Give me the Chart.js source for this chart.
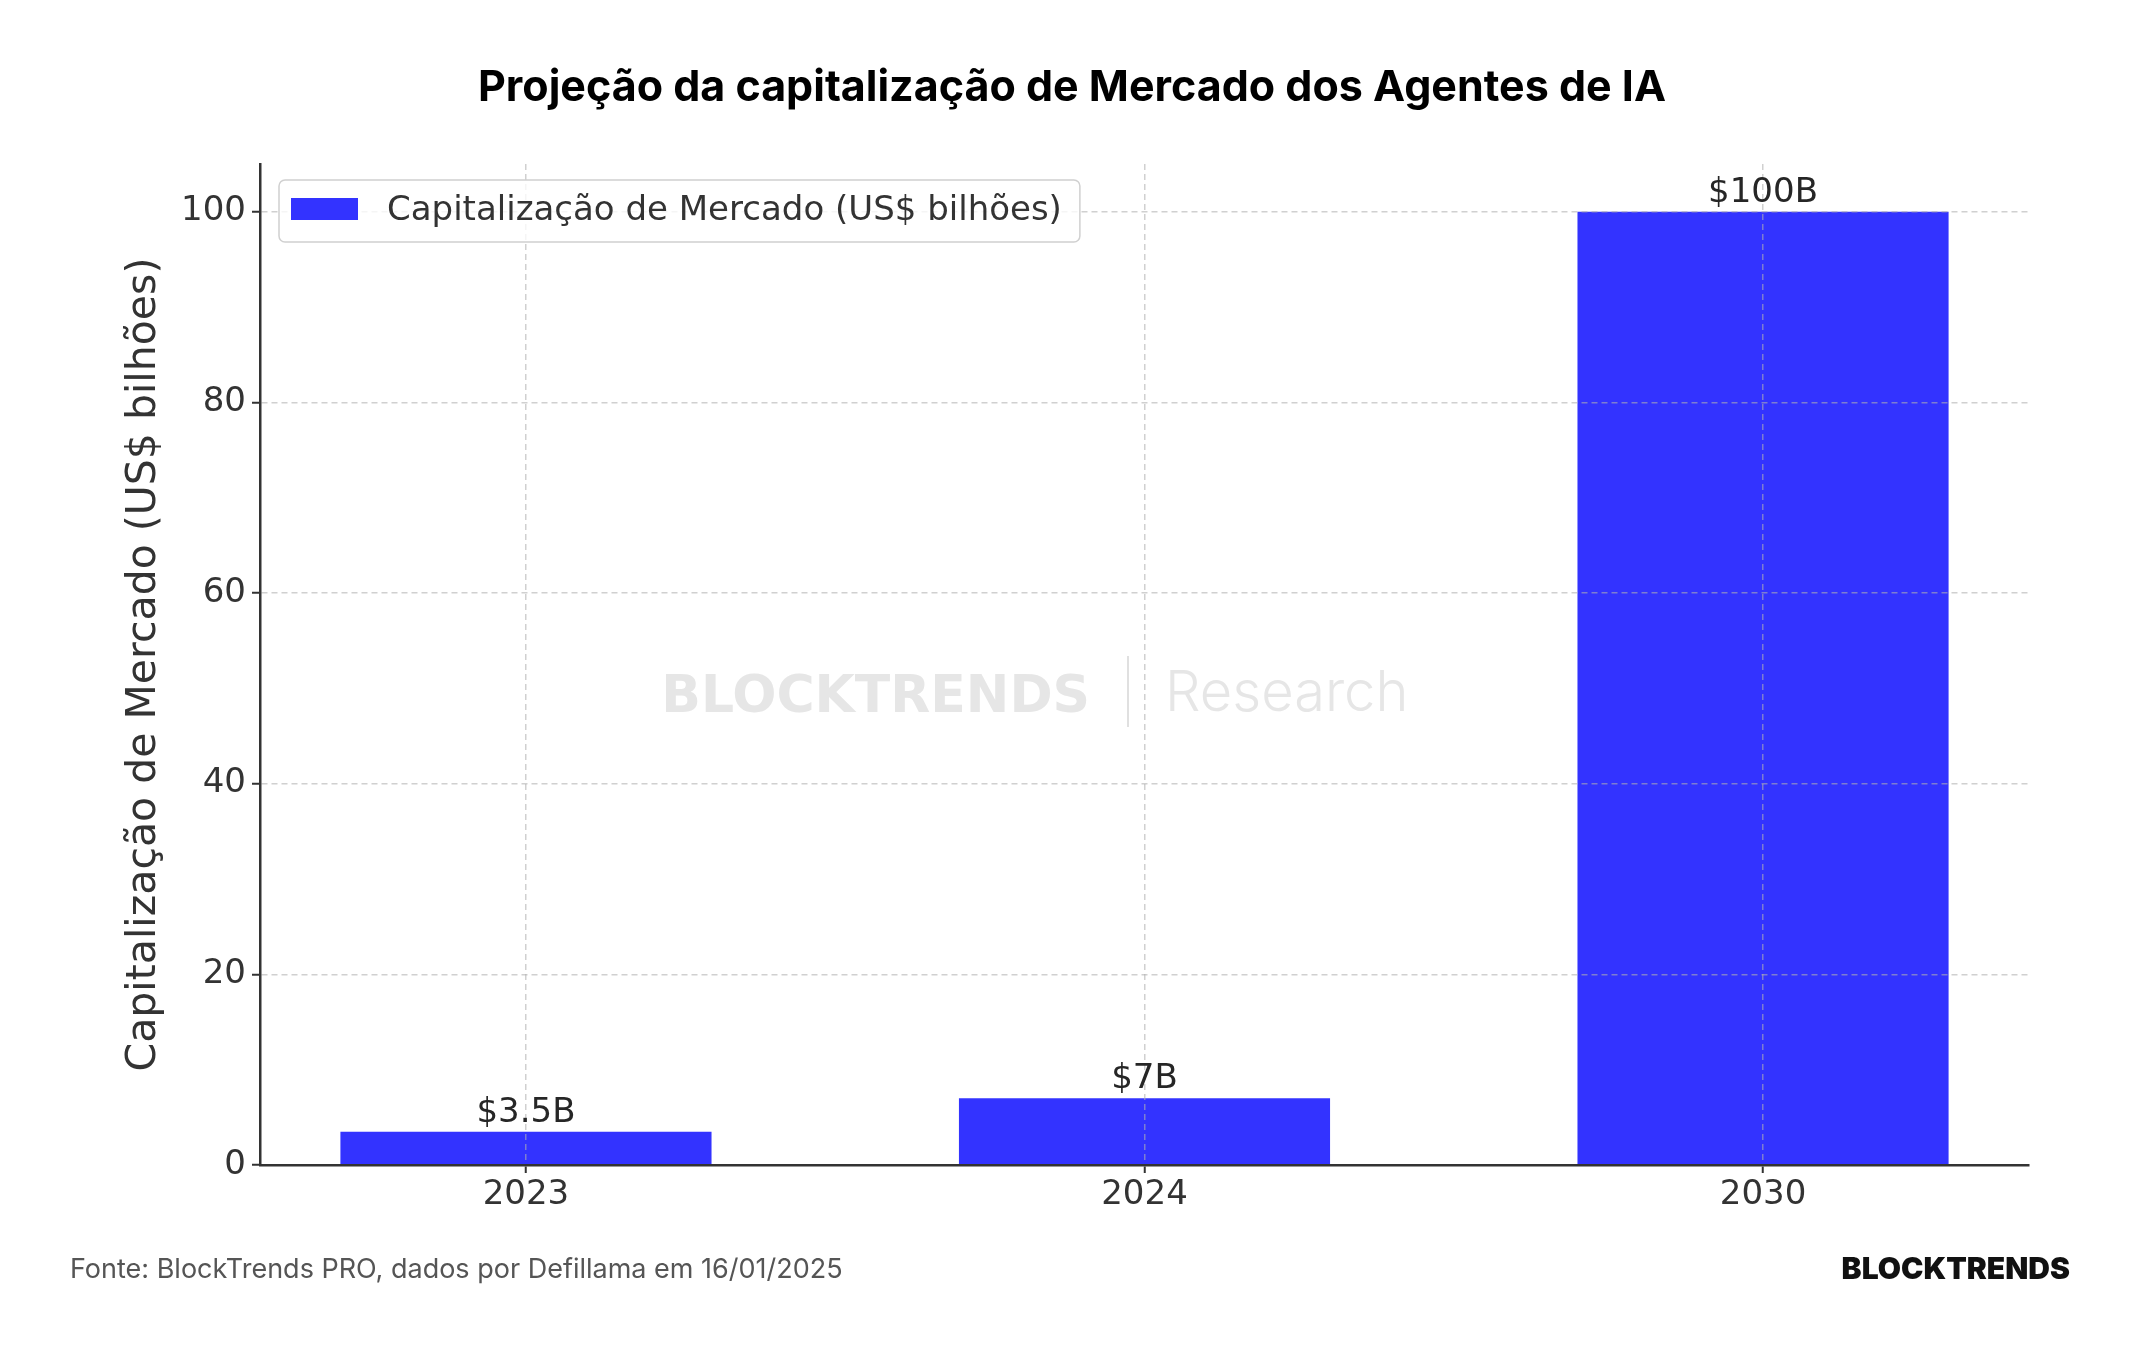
<!DOCTYPE html>
<html lang="pt-BR">
<head>
<meta charset="utf-8">
<title>Projeção da capitalização de Mercado dos Agentes de IA</title>
<script src="https://cdn.jsdelivr.net/npm/chart.js@4.4.1/dist/chart.umd.min.js"></script>
<style>
    html, body { margin: 0; padding: 0; background: #fff; }
    #wrap { width: 2144px; height: 1350px; position: relative; }
</style>
</head>
<body>
<div id="wrap"><canvas id="myChart"></canvas></div>
<script>
// data
const years = ['2023', '2024', '2030'];
const marketCap = [3.5, 7, 100];
const barLabels = ['$3.5B', '$7B', '$100B'];
const yTicks = [0, 20, 40, 60, 80, 100];
const seriesName = 'Capitalização de Mercado (US$ bilhões)';
const yTitle = 'Capitalização de Mercado (US$ bilhões)';
const chartTitle = 'Projeção da capitalização de Mercado dos Agentes de IA';
const source = 'Fonte: BlockTrends PRO, dados por Defillama em 16/01/2025';

const tickFont = { family: 'DejaVu Sans', size: 34 };
const gridColor = 'rgba(176, 176, 176, 0.6)';

// title, watermark, legend, value labels and footer
const extras = {
    id: 'extras',
    beforeDatasetsDraw(chart) {
        const ctx = chart.ctx;
        ctx.save();
        ctx.fillStyle = '#e6e6e6';
        ctx.textBaseline = 'alphabetic';
        ctx.font = 'bold 52px "DejaVu Sans"';
        ctx.textAlign = 'right';
        ctx.fillText('BLOCKTRENDS', 1090, 712);
        ctx.font = '300 56px Inter';
        ctx.textAlign = 'left';
        ctx.fillText('Research', 1165, 711);
        ctx.strokeStyle = '#e0e0e0';
        ctx.lineWidth = 2;
        ctx.beginPath();
        ctx.moveTo(1128, 656);
        ctx.lineTo(1128, 727);
        ctx.stroke();
        ctx.restore();
    },
    afterDraw(chart) {
        const ctx = chart.ctx;
        ctx.save();

        // title, centred on the whole picture
        ctx.font = 'bold 43px Inter';
        ctx.fillStyle = '#000';
        ctx.textAlign = 'center';
        ctx.textBaseline = 'middle';
        ctx.fillText(chartTitle, chart.width / 2, 88);

        // labels over the bars
        const meta = chart.getDatasetMeta(0);
        ctx.font = '34px "DejaVu Sans"';
        ctx.fillStyle = '#262626';
        ctx.textBaseline = 'alphabetic';
        meta.data.forEach(function(bar, i) {
            ctx.fillText(barLabels[i], bar.x, bar.y - 10);
        });

        // legend box
        const ds = chart.data.datasets[0];
        const textW = ctx.measureText(ds.label).width;
        const bx = 279, by = 180, bh = 62;
        const bw = 12 + 67 + 29 + textW + 18;
        ctx.beginPath();
        ctx.roundRect(bx, by, bw, bh, 6);
        ctx.fillStyle = 'rgba(255, 255, 255, 0.8)';
        ctx.fill();
        ctx.strokeStyle = '#d0d0d0';
        ctx.lineWidth = 1.5;
        ctx.stroke();
        ctx.fillStyle = ds.backgroundColor;
        ctx.fillRect(bx + 12, by + 18, 67, 22);
        ctx.fillStyle = '#333';
        ctx.textAlign = 'left';
        ctx.textBaseline = 'middle';
        ctx.fillText(ds.label, bx + 108, by + bh / 2);

        // footer
        ctx.font = '27px Inter';
        ctx.fillStyle = '#555';
        ctx.fillText(source, 70, 1270);
        ctx.font = '900 30px Inter';
        ctx.fillStyle = '#111';
        ctx.textAlign = 'right';
        ctx.fillText('BLOCKTRENDS', 2070, 1270);
        ctx.restore();
    }
};

const ctx = document.getElementById('myChart').getContext('2d');
const myChart = new Chart(ctx, {
    type: 'bar',
    data: {
        datasets: [{
            label: seriesName,
            data: marketCap.map(function(v, i) { return { x: i, y: v }; }),
            backgroundColor: '#3333ff',
            borderWidth: 0,
            categoryPercentage: 1,
            barPercentage: 0.6
        }]
    },
    options: {
        responsive: true,
        maintainAspectRatio: false,
        animation: false,
        layout: { padding: { left: 0, right: 115, top: 164, bottom: 105 } },
        plugins: {
            legend: { display: false },
            tooltip: { enabled: false },
            title: { display: false }
        },
        scales: {
            x: {
                type: 'linear',
                min: -0.43,
                max: 2.43,
                offset: false,
                afterBuildTicks: function(scale) {
                    scale.ticks = years.map(function(_, i) { return { value: i }; });
                },
                afterFit: function(scale) { scale.height = 80; },
                ticks: {
                    callback: function(value) { return years[value]; },
                    font: tickFont,
                    color: '#333',
                    padding: 2,
                    autoSkip: false,
                    maxRotation: 0
                },
                grid: {
                    offset: false,
                    color: gridColor,
                    lineWidth: 1.5,
                    z: 1,
                    tickLength: 8,
                    tickColor: '#333',
                    tickWidth: 2,
                    tickBorderDash: []
                },
                border: { color: '#333', width: 2.5, dash: [6, 4], z: 1 }
            },
            y: {
                min: 0,
                max: 105,
                afterBuildTicks: function(scale) {
                    scale.ticks = yTicks.map(function(v) { return { value: v }; });
                },
                afterFit: function(scale) { scale.width = 260; },
                ticks: {
                    font: tickFont,
                    color: '#333',
                    padding: 6
                },
                grid: {
                    // no dashed line over the bottom axis
                    color: function(c) { return c.tick && c.tick.value === 0 ? 'rgba(0,0,0,0)' : gridColor; },
                    lineWidth: 1.5,
                    z: 1,
                    tickLength: 8,
                    tickColor: '#333',
                    tickWidth: 2,
                    tickBorderDash: []
                },
                border: { color: '#333', width: 2.5, dash: [6, 4], z: 1 },
                title: {
                    display: true,
                    text: yTitle,
                    color: '#333',
                    font: { family: 'DejaVu Sans', size: 41 },
                    padding: { top: 120, bottom: 0 }
                }
            }
        }
    },
    plugins: [extras]
});
</script>
</body>
</html>
